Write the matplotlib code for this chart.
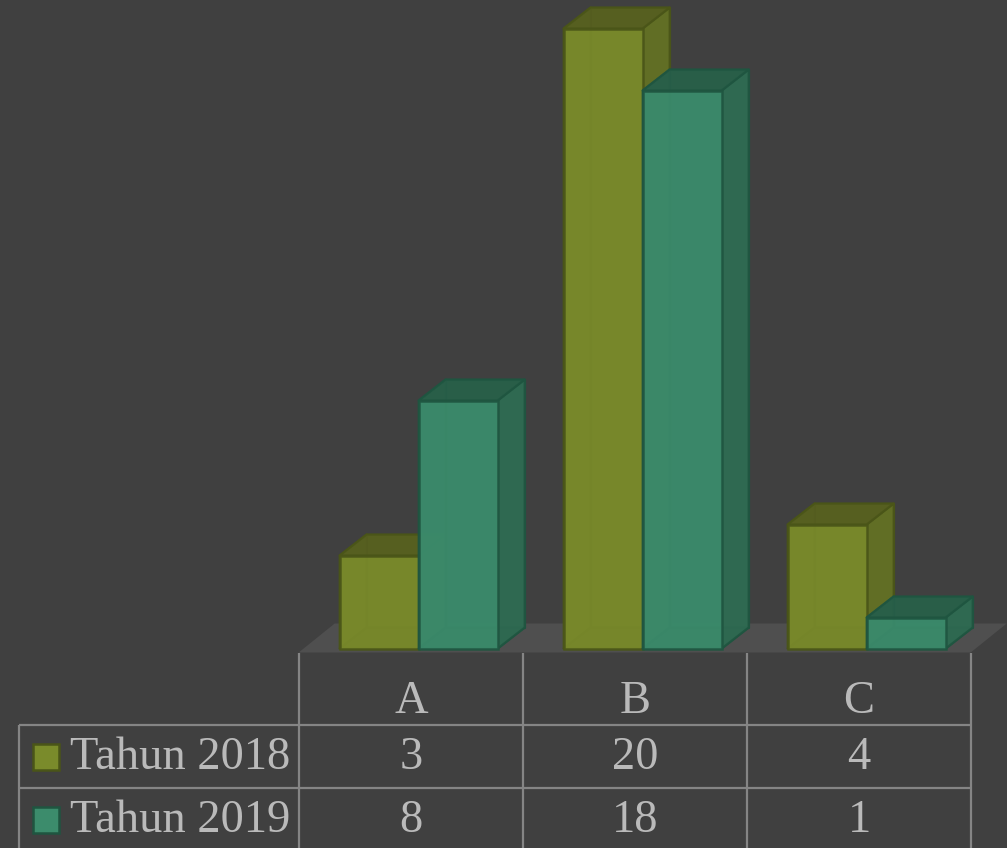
import matplotlib.pyplot as plt
from matplotlib.patches import Polygon, Rectangle

# Data
categories = ['A', 'B', 'C']
series_names = ['Tahun 2018', 'Tahun 2019']
tahun_2018 = [3, 20, 4]
tahun_2019 = [8, 18, 1]

# Styling
BG = '#404040'
GRID = '#858585'
TEXT = '#bababa'
FLOOR = '#4f4f4f'
OLIVE = {'front': '#7a8b2b', 'top': '#565e20', 'side': '#626f25', 'edge': '#4a5518'}
GREEN = {'front': '#3c8c6c', 'top': '#285e48', 'side': '#2f6a52', 'edge': '#1f5540'}

W, H = 1007, 848
PX_PER_CAT = 224
PX_PER_UNIT = 31
BAR_W = 79 / PX_PER_CAT
OFFSET = 8 / PX_PER_CAT
DX = 27 / PX_PER_CAT
DY = 21 / PX_PER_UNIT

plt.rcParams['font.family'] = ['Liberation Serif', 'DejaVu Serif']

fig = plt.figure(figsize=(W / 100, H / 100), dpi=100, facecolor=BG)

# bars axes: x in categories, y in values
ax = fig.add_axes([298.7 / W, (H - 648.5) / H, 672 / W, 648.5 / H])
ax.set_xlim(0, 3)
ax.set_ylim(0, 648.5 / PX_PER_UNIT)
ax.axis('off')


def draw_bar(x, h, col):
    x2 = x + BAR_W
    faces = [
        ([(x + DX, DY), (x2 + DX, DY), (x2 + DX, h + DY), (x + DX, h + DY)], col['side']),
        ([(x, 0), (x + DX, DY), (x + DX, h + DY), (x, h)], col['side']),
        ([(x, 0), (x2, 0), (x2 + DX, DY), (x + DX, DY)], col['top']),
        ([(x2, 0), (x2 + DX, DY), (x2 + DX, h + DY), (x2, h)], col['side']),
        ([(x, h), (x2, h), (x2 + DX, h + DY), (x + DX, h + DY)], col['top']),
    ]
    for pts, c in faces:
        ax.add_patch(Polygon(pts, closed=True, facecolor=c, edgecolor=col['edge'],
                             lw=1.6, alpha=0.88, clip_on=False, joinstyle='round'))
    ax.add_patch(Rectangle((x, 0), BAR_W, h, facecolor=col['front'], edgecolor=col['edge'],
                           lw=1.8, alpha=0.9, clip_on=False))


# floor
floor_y0 = -4 / PX_PER_UNIT
floor_y1 = 25 / PX_PER_UNIT
ax.add_patch(Polygon([(0, floor_y0), (3, floor_y0), (3 + 36 / PX_PER_CAT, floor_y1),
                      (36 / PX_PER_CAT, floor_y1)], closed=True, facecolor=FLOOR,
                     edgecolor='none', clip_on=False, zorder=0))

for i in range(len(categories)):
    left = i + 0.5 + OFFSET - BAR_W
    draw_bar(left, tahun_2018[i], OLIVE)
    draw_bar(left + BAR_W, tahun_2019[i], GREEN)

# data table, laid out in pixels
tbl = fig.add_axes([0, 0, 1, 1])
tbl.set_xlim(0, W)
tbl.set_ylim(H, 0)
tbl.axis('off')
tbl.patch.set_alpha(0)

col_x = [299 + PX_PER_CAT * i for i in range(len(categories) + 1)]
for x in col_x:
    tbl.plot([x, x], [653, H], color=GRID, lw=1.6, solid_capstyle='butt')
tbl.plot([19, 19], [725, H], color=GRID, lw=1.6, solid_capstyle='butt')
for y in [725, 788]:
    tbl.plot([19, 971], [y, y], color=GRID, lw=1.6, solid_capstyle='butt')

FS = 33.5
for i, cat in enumerate(categories):
    xc = col_x[i] + PX_PER_CAT / 2
    tbl.text(xc, 713, cat, color=TEXT, fontsize=FS, ha='center', va='baseline')
    tbl.text(xc, 769, str(tahun_2018[i]), color=TEXT, fontsize=FS, ha='center', va='baseline')
    tbl.text(xc, 832, str(tahun_2019[i]), color=TEXT, fontsize=FS, ha='center', va='baseline')

for name, col, y0, base in [(series_names[0], OLIVE, 744, 769), (series_names[1], GREEN, 807, 832)]:
    tbl.add_patch(Rectangle((33, y0), 26, 26, facecolor=col['front'], edgecolor=col['edge'], lw=1.8))
    tbl.text(70, base, name, color=TEXT, fontsize=FS, ha='left', va='baseline')

fig.savefig('out.png', dpi=100, facecolor=BG)
plt.close(fig)
